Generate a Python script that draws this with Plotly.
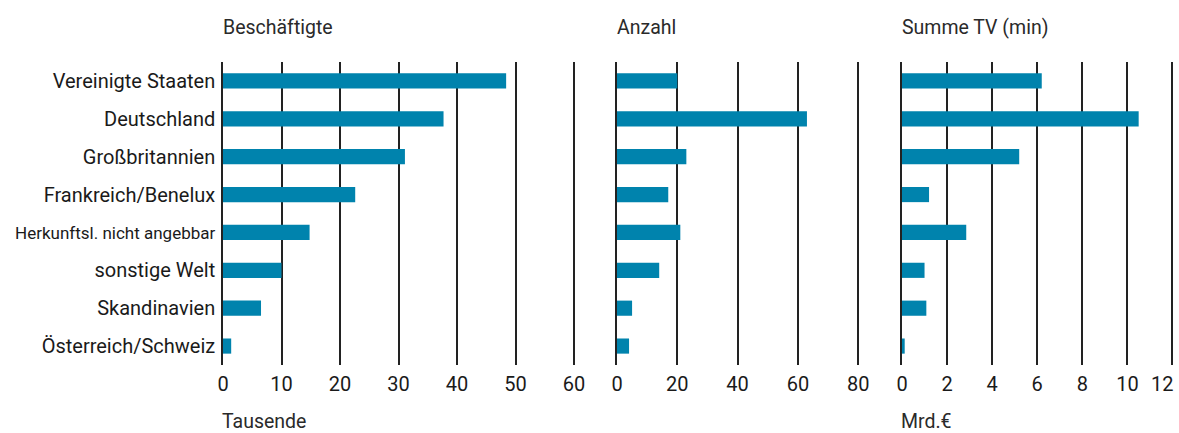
import plotly.graph_objects as go

categories = ["Vereinigte Staaten", "Deutschland", "Großbritannien", "Frankreich/Benelux",
              "Herkunftsl. nicht angebbar", "sonstige Welt", "Skandinavien", "Österreich/Schweiz"]
beschaeftigte = [48.4, 37.7, 31.1, 22.6, 14.8, 10.0, 6.5, 1.4]
anzahl = [20, 63, 23, 17, 21, 14, 5, 4]
summe_tv = [6.2, 10.5, 5.2, 1.2, 2.85, 1.0, 1.08, 0.12]

titles = ["Beschäftigte", "Anzahl", "Summe TV (min)"]
units = ["Tausende", "", "Mrd.€"]
x_ticks = [[0, 10, 20, 30, 40, 50, 60], [0, 20, 40, 60, 80], [0, 2, 4, 6, 8, 10, 12]]
x_ranges = [[0, 61], [0, 82], [0, 12.2]]

FONT = "Roboto, Liberation Sans, sans-serif"
BAR = "#0083ad"
GRID = "#222222"
TXT = "#1a1a1a"
W, H = 1179, 433
T, B = 62, 68
PH = H - T - B
# pixel scale: panel1 5.85 px/unit, panel2 3.015 px/unit, panel3 22.54 px/unit
domains = [[223 / W, (223 + 61 * 5.85) / W],
           [617 / W, (617 + 82 * 3.015) / W],
           [902 / W, (902 + 12.2 * 22.54) / W]]

tick_text = [c if not c.startswith("Herkunft") else f"<span style='font-size:17px'>{c}</span>"
             for c in categories]

# the last tick label of the right panel sits at the page edge; it is placed right-aligned
x_ticktext = []
for i, tv in enumerate(x_ticks):
    labels = [str(v) for v in tv]
    if i == 2:
        labels[-1] = ""
    x_ticktext.append(labels)


def py(px_from_top):
    return (H - B - px_from_top) / PH


fig = go.Figure()
series = [beschaeftigte, anzahl, summe_tv]
for i, vals in enumerate(series):
    sfx = "" if i == 0 else str(i + 1)
    fig.add_trace(go.Bar(x=vals, y=categories, orientation="h", marker=dict(color=BAR, line=dict(width=0)),
                         width=0.4, xaxis="x" + sfx, yaxis="y" + sfx, showlegend=False,
                         hoverinfo="skip"))

layout = dict(width=W, height=H, plot_bgcolor="white", paper_bgcolor="white",
              margin=dict(l=0, r=0, t=T, b=B),
              font=dict(family=FONT, size=20, color=TXT))
for i in range(3):
    sfx = "" if i == 0 else str(i + 1)
    layout["xaxis" + sfx] = dict(domain=domains[i], range=x_ranges[i], tickmode="array",
                                 tickvals=x_ticks[i], ticktext=x_ticktext[i],
                                 showgrid=True, gridcolor=GRID, gridwidth=1.5, zeroline=False,
                                 showline=False, ticks="", anchor="y" + sfx, automargin=False,
                                 ticklabelstandoff=5,
                                 tickfont=dict(family=FONT, size=20, color=TXT))
    layout["yaxis" + sfx] = dict(domain=[0, 1], type="category", categoryarray=categories,
                                 autorange="reversed", anchor="x" + sfx, showgrid=False,
                                 showline=True, linecolor=GRID, linewidth=1.5, ticks="",
                                 showticklabels=(i == 0), automargin=False,
                                 tickmode="array", tickvals=categories, ticktext=tick_text,
                                 tickfont=dict(family=FONT, size=20, color=TXT),
                                 ticklabelstandoff=2)
fig.update_layout(**layout)

anns = []
for i in range(3):
    anns.append(dict(text=titles[i], x=domains[i][0] - 2 / W, y=py(28), xref="paper", yref="paper",
                     xanchor="left", yanchor="middle", showarrow=False,
                     font=dict(family=FONT, size=19.5, color="#2a2a2a")))
    if units[i]:
        anns.append(dict(text=units[i], x=domains[i][0] - 3 / W, y=py(421), xref="paper", yref="paper",
                         xanchor="left", yanchor="middle", showarrow=False,
                         font=dict(family=FONT, size=19.5, color="#2a2a2a")))
anns.append(dict(text=str(x_ticks[2][-1]), x=x_ticks[2][-1], xref="x3", y=py(384), yref="paper",
                 xanchor="right", yanchor="middle", xshift=3, showarrow=False,
                 font=dict(family=FONT, size=20, color=TXT)))
fig.update_layout(annotations=anns)
fig.write_html("out.html", config={"displayModeBar": False},
               post_script="document.body.style.margin='0';")
